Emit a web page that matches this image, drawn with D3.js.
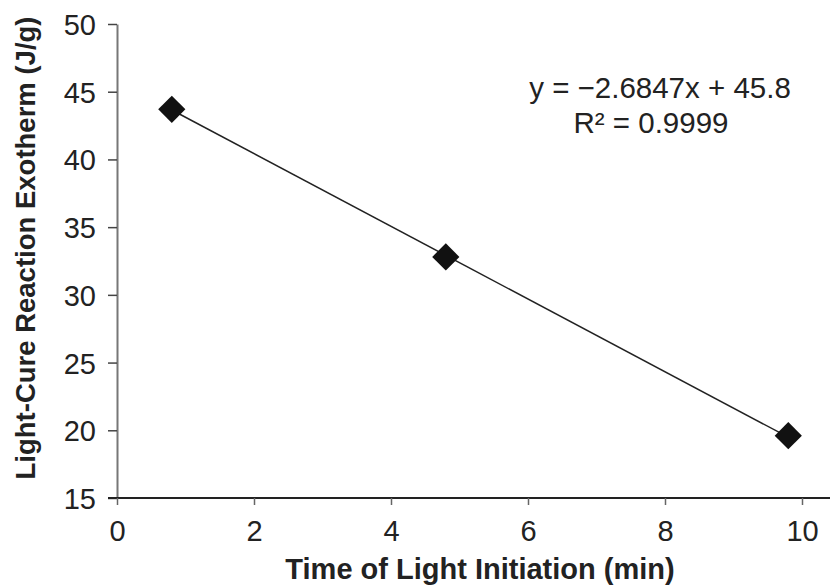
<!DOCTYPE html>
<html>
<head>
<meta charset="UTF-8" />
<title>Light-Cure Reaction Exotherm</title>
<script src="https://cdnjs.cloudflare.com/ajax/libs/d3/7.8.5/d3.min.js"></script>
<style>
    body { margin: 0; background: #fff; }
    svg text { font-family: 'Liberation Sans', Arial, sans-serif; fill: #222; }
    .title { font-weight: bold; }
    .tick text { font-size: 29px; }
</style>
</head>
<body>
<div id="chart"></div>
<script>
    // data
    var timeMin = [0.8, 4.8, 9.8];
    var exotherm = [43.7, 32.8, 19.6];
    var xTicks = [0, 2, 4, 6, 8, 10];
    var yTicks = [15, 20, 25, 30, 35, 40, 45, 50];
    var slope = -2.6847, intercept = 45.8, r2 = "0.9999";

    var w = 831, h = 587;
    var margin = {left: 117, top: 24, right: 29, bottom: 89};

    var x = d3.scaleLinear().domain([0, 10]).range([margin.left, 802]);
    var y = d3.scaleLinear().domain([15, 50]).range([h - margin.bottom, margin.top]);

    var svg = d3.select("#chart").append("svg")
        .attr("width", w)
        .attr("height", h);

    // y axis
    var yAxis = svg.append("g")
        .attr("transform", "translate(" + x(0) + ",0)")
        .call(d3.axisLeft(y).tickValues(yTicks).tickSize(9).tickPadding(12).tickSizeOuter(0));
    yAxis.select(".domain").attr("stroke", "#777").attr("stroke-width", 2);
    yAxis.selectAll(".tick line").attr("stroke", "#444").attr("stroke-width", 1.5);

    // x axis
    var xAxis = svg.append("g")
        .attr("transform", "translate(0," + y(15) + ")")
        .call(d3.axisBottom(x).tickValues(xTicks).tickSize(7).tickPadding(15).tickSizeOuter(0));
    xAxis.select(".domain").attr("d", "M" + (x(0) - 9) + ",0H" + (w - 1))
        .attr("stroke", "#222").attr("stroke-width", 2);
    xAxis.selectAll(".tick line").attr("stroke", "#666").attr("stroke-width", 1.5);

    yAxis.selectAll(".tick text").attr("fill", "#222").attr("dy", "0.36em");
    xAxis.selectAll(".tick text").attr("fill", "#222");

    // trend line
    var xr = d3.extent(timeMin);
    svg.append("line")
        .attr("x1", x(xr[0])).attr("y1", y(slope * xr[0] + intercept))
        .attr("x2", x(xr[1])).attr("y2", y(slope * xr[1] + intercept))
        .attr("stroke", "#222")
        .attr("stroke-width", 1.5);

    // markers
    var sym = d3.symbol().type(d3.symbolSquare).size(370);
    svg.selectAll(".pt")
        .data(timeMin)
        .enter().append("path")
        .attr("class", "pt")
        .attr("d", sym)
        .attr("transform", function(d, i) {
            return "translate(" + x(d) + "," + y(exotherm[i]) + ") rotate(45)";
        })
        .attr("fill", "#111");

    // equation
    svg.append("text")
        .attr("x", 660).attr("y", 98)
        .attr("text-anchor", "middle")
        .style("font-size", "29.5px")
        .text("y = \u22122.6847x + 45.8");
    svg.append("text")
        .attr("x", 651).attr("y", 133)
        .attr("text-anchor", "middle")
        .style("font-size", "29.5px")
        .text("R\u00b2 = " + r2);

    // axis titles
    svg.append("text")
        .attr("class", "title")
        .attr("x", 480).attr("y", 579)
        .attr("text-anchor", "middle")
        .style("font-size", "29px")
        .text("Time of Light Initiation (min)");
    svg.append("text")
        .attr("class", "title")
        .attr("transform", "translate(35,248) rotate(-90)")
        .attr("text-anchor", "middle")
        .style("font-size", "27.5px")
        .text("Light-Cure Reaction Exotherm (J/g)");
</script>
</body>
</html>
